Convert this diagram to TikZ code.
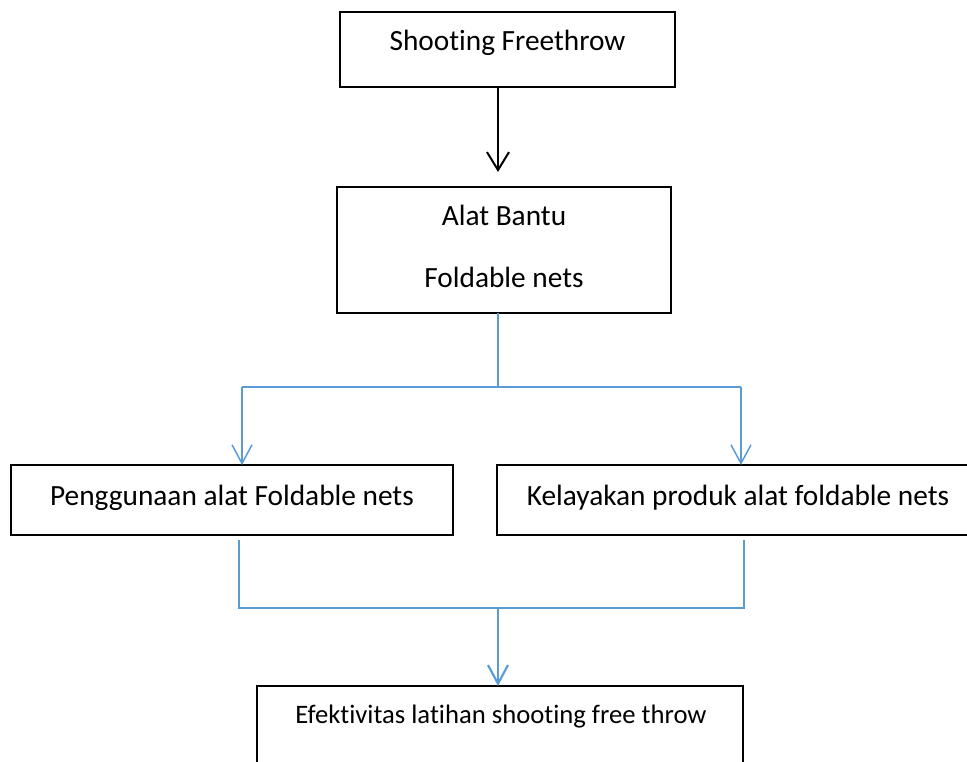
\documentclass[tikz,border=0pt]{standalone}
\usepackage{fontspec}
\setmainfont{Carlito}[Ligatures={NoCommon}]
\usetikzlibrary{arrows.meta}
\definecolor{officeblue}{HTML}{5B9BD5}
\begin{document}
\begin{tikzpicture}[x=0.75pt,y=-0.75pt,
  box/.style 2 args={draw=black, line width=1.5pt, rectangle, inner sep=0pt, outer sep=0pt,
    anchor=north west, minimum width=#1*0.75pt, minimum height=#2*0.75pt},
  txt/.style={anchor=base, inner sep=0pt},
  bigtxt/.style={txt, font=\fontsize{22}{26}\selectfont},
  smalltxt/.style={txt, font=\fontsize{20}{24}\selectfont},
  blackarrow/.style={draw=black, line width=1.5pt, -{Straight Barb[length=13.5pt,width=16.5pt]}},
  bluethin/.style={draw=officeblue, line width=0.8pt},
  bluearrow/.style={draw=officeblue, line width=1.1pt, -{Straight Barb[length=14pt,width=15pt]}},
  bluethick/.style={draw=officeblue, line width=1.6pt, -{Straight Barb[length=14pt,width=15pt]}}
]
\useasboundingbox (0,0) rectangle (967,762);
\fill[white] (0,0) rectangle (967,762);
\clip (0,0) rectangle (967,762);

% boxes
\node[box={335}{75}]  (b1) at (340,12)  {};
\node[box={334}{126}] (b2) at (337,187) {};
\node[box={442}{70}]  (b3) at (11,465)  {};
\node[box={483}{70}]  (b4) at (497,465) {};
\node[box={486}{95}]  (b5) at (257,686) {};

% texts
\node[bigtxt] (t1)  at (507.5,51) {Shooting Freethrow};
\node[bigtxt] (t2a) at (504,226) {Alat Bantu};
\node[bigtxt] (t2b) at (504,288) {Foldable nets};
\node[bigtxt] (t3)  at (232,505) {Penggunaan alat Foldable nets};
\node[bigtxt] (t4)  at (738,505) {Kelayakan produk alat foldable nets};
\node[smalltxt] (t5) at (501,723) {Efektivitas latihan shooting free throw};

% coordinates for connectors
\coordinate (a1) at (498,172);
\coordinate (j)  at (498,387);
\coordinate (jl) at (242,387);
\coordinate (jr) at (741,387);
\coordinate (sl) at (239,540);
\coordinate (sr) at (744,540);
\coordinate (kl) at (239,608);
\coordinate (kr) at (744,608);
\coordinate (k)  at (498,608);

% connectors
\draw[blackarrow] (a1 |- b1.south) -- (a1);
\draw[bluethin] (j |- b2.south) -- (j);
\draw[bluethin] (jl) -- (jr);
\draw[bluearrow] (jl) -- (jl |- b3.north);
\draw[bluearrow] (jr) -- (jr |- b4.north);
\draw[bluethin] (sl) -- (kl) -- (kr) -- (sr);
\draw[bluethick] (k) -- (k |- b5.north);
\end{tikzpicture}
\end{document}
